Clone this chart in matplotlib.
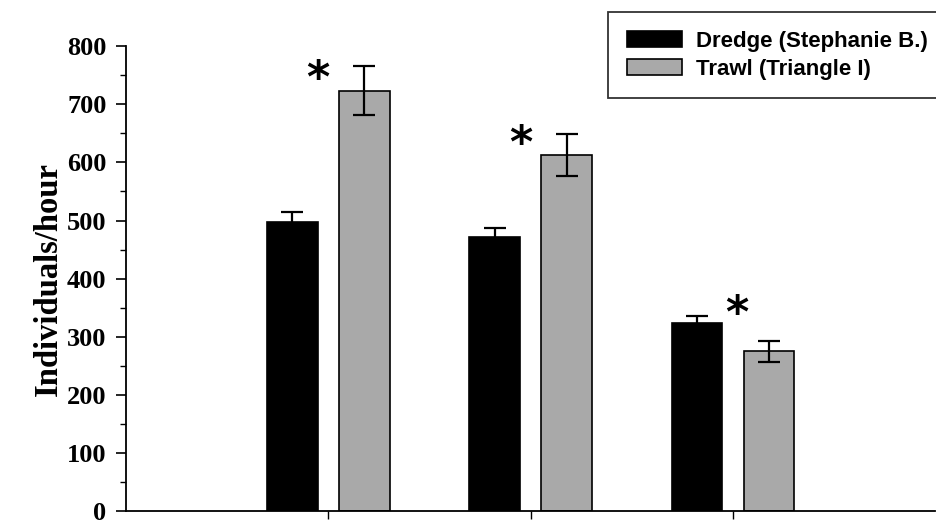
import matplotlib
matplotlib.use("Agg")
import matplotlib.pyplot as plt
from matplotlib.ticker import MultipleLocator
import numpy as np

positions = [1, 2, 3]
dredge = [498, 472, 324]
dredge_err = [16, 15, 11]
trawl = [723, 613, 275]
trawl_err = [42, 36, 18]
star_x = [0.95, 1.95, 3.02]
star_y = [742, 631, 338]
labels = ["Dredge (Stephanie B.)", "Trawl (Triangle I)"]

fig = plt.figure(figsize=(9.37, 5.21), dpi=100)
ax = fig.add_axes([0.1345, 0.0185, 0.8635, 0.8932])

x = np.array(positions)
w = 0.25
off = 0.178
ax.bar(x - off, dredge, w, color="black", edgecolor="black", linewidth=1.2,
       yerr=dredge_err, error_kw=dict(ecolor="black", elinewidth=1.6, capsize=8, capthick=1.6),
       label=labels[0], zorder=2)
ax.bar(x + off, trawl, w, color="#a9a9a9", edgecolor="black", linewidth=1.2,
       yerr=trawl_err, error_kw=dict(ecolor="black", elinewidth=1.6, capsize=8, capthick=1.6),
       label=labels[1], zorder=2)

for sx, sy in zip(star_x, star_y):
    ax.text(sx, sy, "*", ha="center", va="center", fontsize=32, fontweight="bold",
            family="DejaVu Sans")

ax.set_xlim(0, 4)
ax.set_ylim(0, 800)
ax.set_xticks(positions)
ax.set_xticklabels([])
ax.yaxis.set_major_locator(MultipleLocator(100))
ax.yaxis.set_minor_locator(MultipleLocator(50))
ax.spines["top"].set_visible(False)
ax.spines["right"].set_visible(False)
for s in ["left", "bottom"]:
    ax.spines[s].set_linewidth(1.3)
ax.tick_params(axis="y", which="major", length=7, width=1.2, direction="out", pad=7)
ax.tick_params(axis="y", which="minor", length=4, width=1.0, direction="out")
ax.tick_params(axis="x", which="major", length=6, width=1.0, direction="out")
for lab in ax.get_yticklabels():
    lab.set_fontfamily("Liberation Serif")
    lab.set_fontweight("bold")
    lab.set_fontsize(19)
ax.set_ylabel("Individuals/hour", family="Liberation Serif", fontweight="bold",
              fontsize=23.5, labelpad=2)

leg = ax.legend(loc="upper left", bbox_to_anchor=(608/937, 1 - 12/521),
                bbox_transform=fig.transFigure, fancybox=False, frameon=True,
                prop=dict(family="Liberation Sans", weight="bold", size=16),
                handlelength=2.5, handleheight=0.7, borderpad=0.85, labelspacing=0.3,
                handletextpad=0.6, borderaxespad=0)
leg.get_frame().set_edgecolor("black")
leg.get_frame().set_linewidth(1.3)
leg.set_zorder(5)

fig.savefig("out.png", dpi=100)
